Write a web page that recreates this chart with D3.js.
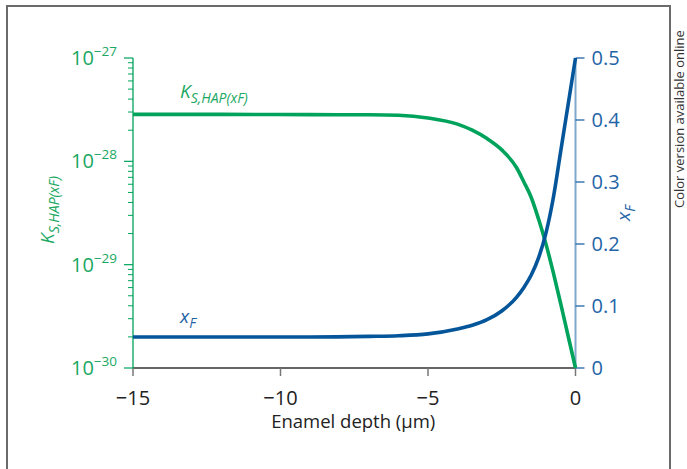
<!DOCTYPE html>
<html>
<head>
<meta charset="utf-8">
<script src="https://cdn.jsdelivr.net/npm/d3@7"></script>
<style>
  body { margin: 0; background: #fff; }
  svg { font-family: "Open Sans", "Noto Sans", sans-serif; }
</style>
</head>
<body>
<svg id="chart" width="687" height="469"></svg>
<script>
// enamel depth (µm)
var depth = [-15, -12, -9, -7, -6, -5, -4, -3.5, -3, -2.5, -2, -1.75, -1.5, -1.25, -1, -0.75, -0.5, -0.25, 0];
// solubility product K_S,HAP(xF)
var kSol = [2.85e-28, 2.85e-28, 2.83e-28, 2.82e-28, 2.79e-28, 2.63e-28, 2.29e-28, 2.0e-28, 1.66e-28, 1.29e-28,
            8.71e-29, 6.31e-29, 4.47e-29, 2.75e-29, 1.58e-29, 8.32e-30, 4.17e-30, 2.04e-30, 1e-30];
// fluoride fraction xF
var xF = [0.05, 0.05, 0.05, 0.051, 0.052, 0.055, 0.063, 0.069, 0.078, 0.092, 0.114, 0.130, 0.150, 0.178, 0.218,
          0.275, 0.350, 0.425, 0.5];

var xTicks = [-15, -10, -5, 0];
var xTickLabels = ["\u221215", "\u221210", "\u22125", "0"];
var kMajor = [-30, -29, -28, -27];
var xfTicks = [0, 0.1, 0.2, 0.3, 0.4, 0.5];

var green = "#00a35c", greenText = "#1aa862";
var blue = "#04559a", blueText = "#1f64a6", blueAxis = "#7ea9cd";

var svg = d3.select("#chart");

// frame
svg.append("rect")
  .attr("x", 7).attr("y", 6)
  .attr("width", 663).attr("height", 475)
  .attr("fill", "none")
  .attr("stroke", "#6b6b6b")
  .attr("stroke-width", 2);

// plot box (named so as not to clash with window.top)
var pLeft = 133, pRight = 575.5, pTop = 58, pBottom = 368;

var x = d3.scaleLinear().domain([-15, 0]).range([pLeft, pRight]);
var yK = d3.scaleLog().domain([1e-30, 1e-27]).range([pBottom, pTop]);
var yF = d3.scaleLinear().domain([0, 0.5]).range([pBottom, pTop]);

// bottom axis
var xAxis = svg.append("g").attr("transform", "translate(0," + pBottom + ")");
xAxis.append("line")
  .attr("x1", pLeft).attr("x2", pRight)
  .attr("stroke", "#333").attr("stroke-width", 1.3);
xAxis.selectAll("line.tick").data(xTicks).enter().append("line")
  .attr("class", "tick")
  .attr("x1", function(d) { return x(d); }).attr("x2", function(d) { return x(d); })
  .attr("y1", 0).attr("y2", 8)
  .attr("stroke", "#777").attr("stroke-width", 1.5);
xAxis.selectAll("text").data(xTicks).enter().append("text")
  .attr("x", function(d) { return x(d); })
  .attr("y", 37)
  .attr("text-anchor", "middle")
  .attr("font-size", 20)
  .attr("fill", "#222")
  .text(function(d, i) { return xTickLabels[i]; });
svg.append("text")
  .attr("x", (pLeft + pRight) / 2 - 1).attr("y", 428)
  .attr("text-anchor", "middle")
  .attr("font-size", 18.5)
  .attr("fill", "#222")
  .text("Enamel depth (\u00b5m)");

// left log axis
var minor = [];
kMajor.slice(0, -1).forEach(function(e) {
  for (var m = 2; m <= 9; m++) minor.push(m * Math.pow(10, e));
});
var yAxis = svg.append("g");
yAxis.append("line")
  .attr("x1", pLeft).attr("x2", pLeft)
  .attr("y1", pTop).attr("y2", pBottom)
  .attr("stroke", green).attr("stroke-width", 1.3);
yAxis.selectAll("line.minor").data(minor).enter().append("line")
  .attr("class", "minor")
  .attr("x1", pLeft - 5).attr("x2", pLeft)
  .attr("y1", function(d) { return yK(d); }).attr("y2", function(d) { return yK(d); })
  .attr("stroke", green).attr("stroke-width", 1);
yAxis.selectAll("line.major").data(kMajor).enter().append("line")
  .attr("class", "major")
  .attr("x1", pLeft - 9).attr("x2", pLeft)
  .attr("y1", function(d) { return yK(Math.pow(10, d)); }).attr("y2", function(d) { return yK(Math.pow(10, d)); })
  .attr("stroke", green).attr("stroke-width", 1.2);
var kLab = yAxis.selectAll("text").data(kMajor).enter().append("text")
  .attr("x", pLeft - 16)
  .attr("y", function(d) { return yK(Math.pow(10, d)) + 7; })
  .attr("text-anchor", "end")
  .attr("fill", greenText)
  .attr("font-size", 20);
kLab.append("tspan").text("10");
kLab.append("tspan")
  .attr("dy", -9).attr("font-size", 13.5)
  .text(function(d) { return "\u2212" + Math.abs(d); });

// left title
var kt = svg.append("text")
  .attr("transform", "translate(54,210) rotate(-90)")
  .attr("text-anchor", "middle")
  .attr("fill", greenText)
  .attr("font-style", "italic")
  .attr("font-size", 19);
kt.append("tspan").text("K");
kt.append("tspan").attr("dy", 5).attr("font-size", 14).text("S,HAP(xF)");

// right axis
var rAxis = svg.append("g");
rAxis.append("line")
  .attr("x1", pRight).attr("x2", pRight)
  .attr("y1", pTop).attr("y2", pBottom)
  .attr("stroke", blueAxis).attr("stroke-width", 2);
rAxis.selectAll("line.tick").data(xfTicks).enter().append("line")
  .attr("class", "tick")
  .attr("x1", pRight).attr("x2", pRight + 9)
  .attr("y1", function(d) { return yF(d); }).attr("y2", function(d) { return yF(d); })
  .attr("stroke", blueText).attr("stroke-width", 1.3);
rAxis.selectAll("text").data(xfTicks).enter().append("text")
  .attr("x", pRight + 16)
  .attr("y", function(d) { return yF(d) + 7; })
  .attr("fill", blueText)
  .attr("font-size", 20)
  .text(function(d) { return d3.format("")(d); });

var ft = svg.append("text")
  .attr("transform", "translate(630,213) rotate(-90)")
  .attr("text-anchor", "middle")
  .attr("fill", blueText)
  .attr("font-style", "italic")
  .attr("font-size", 19);
ft.append("tspan").text("x");
ft.append("tspan").attr("dy", 5).attr("font-size", 14).text("F");

svg.append("text")
  .attr("transform", "translate(684,208) rotate(-90)")
  .attr("fill", "#333")
  .attr("font-size", 13)
  .text("Color version available online");

// curves
var rows = depth.map(function(d, i) { return { d: d, k: kSol[i], f: xF[i] }; });

svg.append("path")
  .datum(rows)
  .attr("fill", "none")
  .attr("stroke", green)
  .attr("stroke-width", 3.6)
  .attr("d", d3.line()
    .x(function(r) { return x(r.d); })
    .y(function(r) { return yK(r.k); })
    .curve(d3.curveMonotoneX));

svg.append("path")
  .datum(rows)
  .attr("fill", "none")
  .attr("stroke", blue)
  .attr("stroke-width", 3.6)
  .attr("d", d3.line()
    .x(function(r) { return x(r.d); })
    .y(function(r) { return yF(r.f); })
    .curve(d3.curveMonotoneX));

// inline labels
var kl = svg.append("text")
  .attr("x", 180).attr("y", 98)
  .attr("fill", greenText)
  .attr("font-style", "italic")
  .attr("font-size", 19);
kl.append("tspan").text("K");
kl.append("tspan").attr("dy", 5).attr("font-size", 14).text("S,HAP(xF)");

var fl = svg.append("text")
  .attr("x", 180).attr("y", 323)
  .attr("fill", blueText)
  .attr("font-style", "italic")
  .attr("font-size", 19);
fl.append("tspan").text("x");
fl.append("tspan").attr("dy", 5).attr("font-size", 14).text("F");
</script>
</body>
</html>
